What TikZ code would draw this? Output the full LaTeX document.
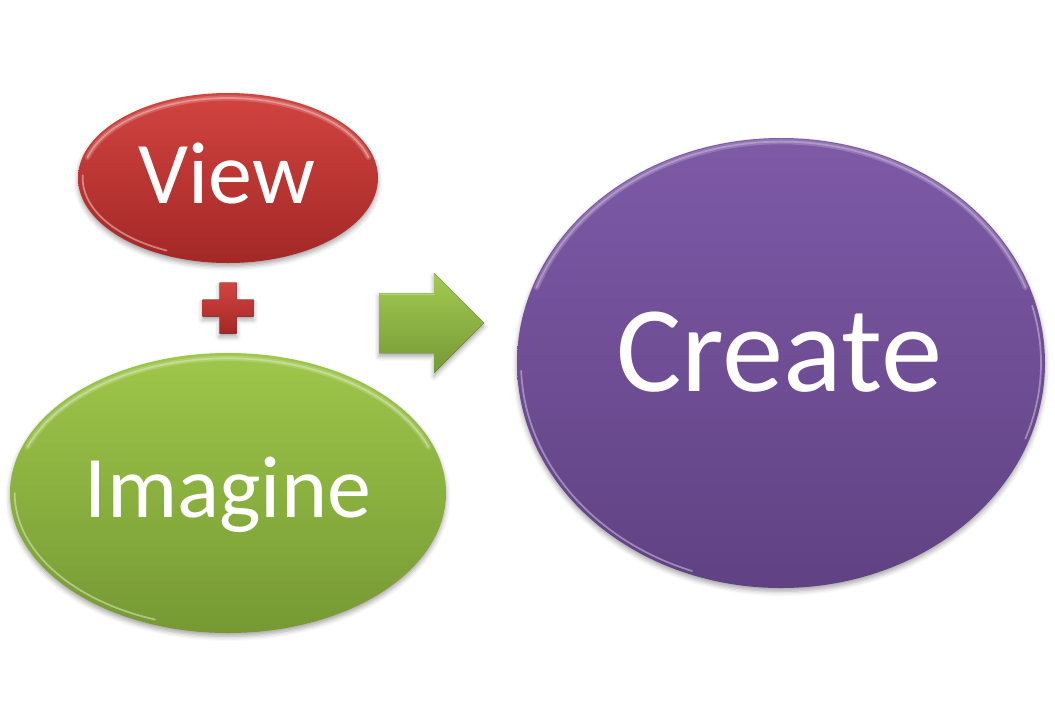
\documentclass[tikz,border=0pt]{standalone}
\usepackage{fontspec}
\setmainfont{Carlito}
\usetikzlibrary{shapes.geometric,shadows.blur}
\definecolor{redtop}{RGB}{210,68,64}
\definecolor{redbot}{RGB}{163,40,38}
\definecolor{grntop}{RGB}{158,199,74}
\definecolor{grnbot}{RGB}{118,153,52}
\definecolor{purtop}{RGB}{126,90,167}
\definecolor{purbot}{RGB}{96,66,131}
\tikzset{
  soft/.style={blur shadow={shadow xshift=0pt,shadow yshift=-2.5pt,shadow blur radius=3.5pt,shadow opacity=35}},
  bubble/.style={ellipse,inner sep=0pt,soft},
  redfill/.style={top color=redtop,bottom color=redbot},
  grnfill/.style={top color=grntop,bottom color=grnbot},
  purfill/.style={top color=purtop,bottom color=purbot},
  lbl/.style={anchor=base,text=white,inner sep=0pt},
  rim/.style={line width=1.3pt,line cap=round,opacity=0.5},
  rimwide/.style={line width=4pt,line cap=round,opacity=0.18},
}
\begin{document}
\begin{tikzpicture}[x=0.75pt,y=-0.75pt]
\useasboundingbox (0,0) rectangle (1055,725);

% View
\node[bubble,redfill,minimum width=225pt,minimum height=127.5pt] (view) at (228,178) {};
\draw[rimwide,white] (view.center) ++(165:109pt and 60pt) arc[start angle=165,end angle=15,x radius=109pt,y radius=60pt];
\draw[rim,white!70!redtop] (view.center) ++(165:109pt and 60pt) arc[start angle=165,end angle=15,x radius=109pt,y radius=60pt];
\draw[rim,white!80!redtop] (view.center) ++(178:109pt and 60pt) arc[start angle=178,end angle=245,x radius=109pt,y radius=60pt];
\node[lbl,font=\fontsize{66pt}{66pt}\selectfont] (viewtxt) at (227,203) {View};

% plus
\fill[redfill,soft] (219.5,282.5) -- (236.5,282.5) -- (236.5,299.5) -- (253.5,299.5) -- (253.5,316.5) -- (236.5,316.5) -- (236.5,333.5) -- (219.5,333.5) -- (219.5,316.5) -- (202.5,316.5) -- (202.5,299.5) -- (219.5,299.5) -- cycle;
\coordinate (plus) at (228,308);

% Imagine
\node[bubble,grnfill,minimum width=327pt,minimum height=210pt] (imagine) at (228,493) {};
\draw[rimwide,white] (imagine.center) ++(160:160pt and 101pt) arc[start angle=160,end angle=20,x radius=160pt,y radius=101pt];
\draw[rim,white!65!grntop] (imagine.center) ++(160:160pt and 101pt) arc[start angle=160,end angle=20,x radius=160pt,y radius=101pt];
\draw[rim,white!75!grntop] (imagine.center) ++(180:160pt and 101pt) arc[start angle=180,end angle=250,x radius=160pt,y radius=101pt];
\node[lbl,font=\fontsize{66pt}{66pt}\selectfont] (imaginetxt) at (228,517) {Imagine};

% arrow
\fill[top color=grntop!95!white,bottom color=grnbot,soft] (379,293) -- (434,293) -- (434,273) -- (484,323) -- (434,373) -- (434,353) -- (379,353) -- cycle;
\draw[white,opacity=0.3,line width=1pt] (380,294.5) -- (435,294.5);
\coordinate (arrowtip) at (484,323);

% Create
\node[bubble,purfill,minimum width=396pt,minimum height=337.5pt] (create) at (781,363) {};
\draw[rimwide,white] (create.center) ++(160:195pt and 166pt) arc[start angle=160,end angle=20,x radius=195pt,y radius=166pt];
\draw[rim,white!60!purtop] (create.center) ++(160:195pt and 166pt) arc[start angle=160,end angle=20,x radius=195pt,y radius=166pt];
\draw[rim,white!70!purtop] (create.center) ++(182:195pt and 166pt) arc[start angle=182,end angle=250,x radius=195pt,y radius=166pt];
\draw[rim,white!70!purtop] (create.center) ++(15:195pt and 166pt) arc[start angle=15,end angle=-20,x radius=195pt,y radius=166pt];
\node[lbl,font=\fontsize{92pt}{92pt}\selectfont] (createtxt) at (779,391) {Create};
\end{tikzpicture}
\end{document}
